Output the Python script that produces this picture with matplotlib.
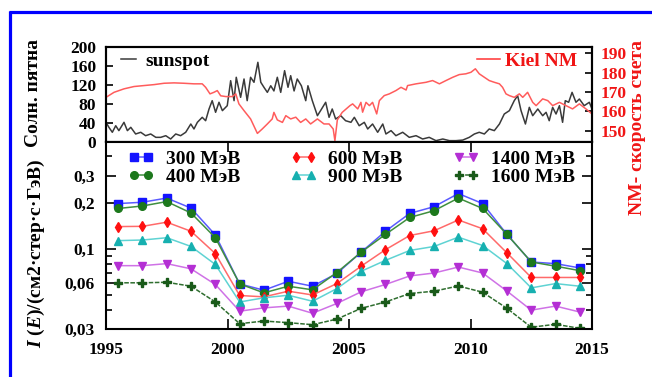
import matplotlib
matplotlib.use("Agg")
import matplotlib.pyplot as plt
from matplotlib.lines import Line2D
from matplotlib.ticker import FixedLocator, FixedFormatter, NullFormatter

plt.rcParams['font.family'] = ['Liberation Serif', 'DejaVu Serif']
plt.rcParams['font.weight'] = 'bold'
plt.rcParams['mathtext.fontset'] = 'custom'
plt.rcParams['mathtext.it'] = 'Liberation Serif:italic:bold'
plt.rcParams['mathtext.rm'] = 'Liberation Serif:bold'

# ---- sunspot number (monthly) ----
sun_year = [1995.0, 1995.12, 1995.26, 1995.4, 1995.53, 1995.74, 1995.88, 1996.02, 1996.22, 1996.43,
            1996.63, 1996.84, 1997.05, 1997.25, 1997.46, 1997.66, 1997.87, 1998.07, 1998.28, 1998.49,
            1998.62, 1998.76, 1998.96, 1999.1, 1999.24, 1999.37, 1999.51, 1999.65, 1999.79, 1999.99,
            2000.13, 2000.27, 2000.36, 2000.54, 2000.68, 2000.81, 2000.95, 2001.09, 2001.25, 2001.37,
            2001.5, 2001.64, 2001.78, 2001.91, 2002.05, 2002.19, 2002.35, 2002.49, 2002.6, 2002.74,
            2002.87, 2003.04, 2003.22, 2003.31, 2003.49, 2003.7, 2003.83, 2004.04, 2004.18, 2004.31,
            2004.45, 2004.66, 2004.86, 2005.08, 2005.22, 2005.42, 2005.63, 2005.77, 2005.97, 2006.18,
            2006.39, 2006.52, 2006.73, 2006.93, 2007.21, 2007.48, 2007.76, 2008.03, 2008.3, 2008.58,
            2008.86, 2009.13, 2009.4, 2009.68, 2009.95, 2010.16, 2010.36, 2010.57, 2010.77, 2010.98,
            2011.19, 2011.39, 2011.6, 2011.8, 2011.94, 2012.08, 2012.26, 2012.42, 2012.56, 2012.77,
            2012.97, 2013.11, 2013.24, 2013.38, 2013.52, 2013.66, 2013.79, 2013.9, 2014.04, 2014.18,
            2014.34, 2014.48, 2014.68, 2014.89, 2015.0]
sunspots = [40.6, 30, 19.5, 33.4, 23, 40.6, 23, 30, 15.9, 19.5,
            12.3, 15.9, 8.8, 8.8, 12.3, 5.3, 15.9, 12.3, 19.5, 37,
            26.5, 40.6, 51.2, 44, 68.8, 86.4, 61.8, 83, 65.3, 75.8,
            128.7, 86.4, 135.9, 93.5, 132.3, 86.4, 135.9, 125.3, 167.6, 125.3,
            114.7, 104, 118, 107, 135.9, 104, 149.9, 114.7, 139.3, 107,
            132.3, 118, 86.4, 118, 86.4, 54.6, 65.3, 83, 51.2, 68.8,
            47.6, 54.6, 44, 40.6, 51.2, 33.4, 40.6, 26.5, 37, 19.5,
            37, 15.9, 23, 12.3, 19.5, 8.8, 12.3, 5.3, 8.8, 1.8,
            5.3, 1.8, 1.8, 3, 8.8, 15.9, 19.5, 15.9, 26.5, 23,
            37, 58.2, 65.3, 86.4, 97, 65.3, 37, 72.3, 54.6, 68.8,
            54.6, 61.8, 44, 72.3, 58.2, 75.8, 40.6, 86.4, 83, 104,
            83, 89.9, 75.8, 83, 68.8]

# ---- Kiel neutron monitor count rate ----
kiel_year = [1995.0, 1995.33, 1995.74, 1996.15, 1996.56, 1996.98, 1997.39, 1997.8, 1998.2, 1998.62,
             1998.96, 1999.1, 1999.28, 1999.44, 1999.58, 1999.72, 1999.93, 2000.2, 2000.34, 2000.47,
             2000.68, 2000.95, 2001.23, 2001.43, 2001.64, 2001.84, 2001.91, 2002.05, 2002.26, 2002.4,
             2002.6, 2002.81, 2003.01, 2003.22, 2003.42, 2003.7, 2003.97, 2004.18, 2004.35, 2004.42,
             2004.52, 2004.72, 2005.04, 2005.15, 2005.36, 2005.49, 2005.56, 2005.7, 2005.84, 2005.97,
             2006.14, 2006.25, 2006.45, 2006.66, 2006.93, 2007.14, 2007.35, 2007.41, 2007.76, 2008.17,
             2008.44, 2008.72, 2008.99, 2009.27, 2009.54, 2009.81, 2010.02, 2010.2, 2010.36, 2010.57,
             2010.77, 2010.98, 2011.19, 2011.32, 2011.46, 2011.6, 2011.8, 2012.01, 2012.15, 2012.35,
             2012.56, 2012.7, 2012.97, 2013.18, 2013.38, 2013.66, 2013.93, 2014.2, 2014.48, 2014.75,
             2015.0]
kiel_rate = [167.2, 169.8, 171.6, 172.8, 173.3, 173.8, 174.5, 174.7, 174.5, 174.2,
             174.2, 172.4, 169.0, 169.8, 170.7, 168.0, 167.6, 167.6, 169.0, 163.8,
             160.3, 156.0, 148.5, 150.8, 153.4, 156.0, 159.4, 155.5, 154.2, 157.7,
             156.0, 156.9, 154.2, 156.0, 153.4, 156.0, 153.4, 153.4, 150.8, 144.7,
             155.5, 159.4, 162.9, 163.8, 161.2, 164.6, 159.5, 164.6, 162.9, 164.6,
             158.6, 165.5, 168.1, 169.0, 170.7, 172.4, 171.0, 173.3, 174.2, 175.0,
             175.9, 174.2, 175.9, 177.6, 179.0, 179.4, 180.2, 182.0, 179.4, 177.6,
             175.9, 175.0, 174.2, 172.4, 169.0, 168.1, 167.2, 169.0, 167.2, 169.8,
             164.6, 162.9, 166.4, 165.5, 162.9, 164.6, 162.9, 161.2, 163.8, 161.2,
             158.6]

# ---- proton intensity, yearly means ----
years = [1995.5, 1996.5, 1997.5, 1998.5, 1999.5, 2000.5, 2001.5, 2002.5, 2003.5, 2004.5,
         2005.5, 2006.5, 2007.5, 2008.5, 2009.5, 2010.5, 2011.5, 2012.5, 2013.5, 2014.5]
i_300 = [0.197, 0.201, 0.214, 0.184, 0.123, 0.059, 0.0537, 0.0614, 0.057, 0.069,
         0.095, 0.130, 0.170, 0.188, 0.229, 0.197, 0.124, 0.082, 0.080, 0.075]
i_400 = [0.183, 0.190, 0.203, 0.171, 0.118, 0.059, 0.0516, 0.057, 0.054, 0.070,
         0.095, 0.124, 0.160, 0.177, 0.214, 0.183, 0.124, 0.082, 0.077, 0.072]
i_600 = [0.1395, 0.140, 0.149, 0.130, 0.093, 0.0496, 0.0486, 0.0529, 0.050, 0.0593,
         0.077, 0.0986, 0.122, 0.131, 0.154, 0.135, 0.094, 0.065, 0.065, 0.065]
i_900 = [0.113, 0.114, 0.118, 0.1035, 0.079, 0.045, 0.0479, 0.0498, 0.0455, 0.055,
         0.0713, 0.084, 0.0975, 0.1035, 0.119, 0.105, 0.080, 0.0556, 0.0593, 0.057]
i_1400 = [0.0776, 0.0776, 0.080, 0.074, 0.0585, 0.0392, 0.0412, 0.0423, 0.038, 0.044,
          0.0524, 0.0585, 0.0665, 0.0695, 0.076, 0.0695, 0.053, 0.0398, 0.0423, 0.0387]
i_1600 = [0.060, 0.060, 0.0605, 0.057, 0.045, 0.0325, 0.0338, 0.033, 0.032, 0.0348,
          0.0409, 0.045, 0.0511, 0.0529, 0.0572, 0.0521, 0.0409, 0.0308, 0.0322, 0.0303]

energy_labels = ['300 МэВ', '400 МэВ', '600 МэВ', '900 МэВ', '1400 МэВ', '1600 МэВ']
year_ticks = [1995, 2000, 2005, 2010, 2015]
intensity_ticks = [0.03, 0.06, 0.1, 0.2, 0.3]
intensity_tick_labels = ['0,03', '0,06', '0,1', '0,2', '0,3']
intensity_minor = [0.04, 0.05, 0.07, 0.08, 0.09, 0.4]

W, H = 652, 377
fig = plt.figure(figsize=(W / 100, H / 100), dpi=100)


def fx(px):
    return px / W


def fy(py):
    return 1 - py / H


AX_L, AX_R = 106, 592
TOP_T, MID, BOT_B = 47, 141.5, 329

ax_top = fig.add_axes([fx(AX_L), fy(MID), fx(AX_R) - fx(AX_L), fy(TOP_T) - fy(MID)])
ax_nm = ax_top.twinx()
ax_bot = fig.add_axes([fx(AX_L), fy(BOT_B), fx(AX_R) - fx(AX_L), fy(MID) - fy(BOT_B)])

RED = '#f01515'
TICK_FS = 12.5
LEG_FS = 14
LABEL_FS = 14

# ---- upper panel ----
sun_line, = ax_top.plot(sun_year, sunspots, color='#3a3a3a', lw=1.1, label='sunspot')
nm_line, = ax_nm.plot(kiel_year, kiel_rate, color='#ff5c5c', lw=1.1, label='Kiel NM')
ax_top.set_xlim(1995, 2015)
ax_top.set_ylim(0, 200)
ax_top.set_yticks([0, 40, 80, 120, 160, 200])
ax_top.set_xticks([])
ax_top.tick_params(axis='y', direction='in', length=5, width=1.2, labelsize=TICK_FS, pad=7)
ax_nm.set_ylim(144.3, 193.3)
ax_nm.set_yticks([150, 160, 170, 180, 190])
ax_nm.tick_params(axis='y', direction='in', length=5, width=1.2, labelsize=TICK_FS,
                  labelcolor=RED, pad=6)
for a in (ax_top, ax_nm):
    for s in a.spines.values():
        s.set_linewidth(1.5)

leg1 = ax_top.legend(handles=[sun_line], loc='center left',
                     bbox_to_anchor=(fx(121), fy(61)), bbox_transform=fig.transFigure,
                     frameon=False, borderpad=0, borderaxespad=0, handlelength=0.78,
                     handletextpad=0.46, prop={'size': LEG_FS, 'weight': 'bold'})
leg2 = ax_nm.legend(handles=[nm_line], loc='center left',
                    bbox_to_anchor=(fx(477), fy(61)), bbox_transform=fig.transFigure,
                    frameon=False, borderpad=0, borderaxespad=0, handlelength=1.18,
                    handletextpad=0.26, prop={'size': LEG_FS, 'weight': 'bold'})
for t in leg2.get_texts():
    t.set_color(RED)
leg2.get_lines()[0].set_color('#ff3333')

# ---- lower panel ----
series = [
    (i_300, 's', '#1414ff', '#5a5aff', '-'),
    (i_400, 'o', '#1c781c', '#3f8f3f', '-'),
    (i_600, 'd', '#ff1010', '#ff6a6a', '-'),
    (i_900, '^', '#17b0b0', '#5fd3d3', '-'),
    (i_1400, 'v', '#b42fd4', '#cf72e6', '-'),
    (i_1600, 'P', '#195a19', '#2f6e2f', (0, (3, 1))),
]
for (vals, mk, mcol, lcol, ls), lab in zip(series, energy_labels):
    ax_bot.plot(years, vals, color=lcol, ls=ls, lw=1.1, marker=mk, ms=5.5,
                mfc=mcol, mec=mcol, label=lab)

ax_bot.set_yscale('log')
ax_bot.set_xlim(1995, 2015)
ax_bot.set_ylim(0.03, 0.5)
ax_bot.set_xticks(year_ticks)
ax_bot.yaxis.set_major_locator(FixedLocator(intensity_ticks))
ax_bot.yaxis.set_major_formatter(FixedFormatter(intensity_tick_labels))
ax_bot.yaxis.set_minor_locator(FixedLocator(intensity_minor))
ax_bot.yaxis.set_minor_formatter(NullFormatter())
ax_bot.xaxis.set_minor_locator(FixedLocator([]))
ax_bot.tick_params(axis='both', which='major', direction='in', length=7, width=1.2,
                   labelsize=TICK_FS, top=True, right=True)
ax_bot.tick_params(axis='x', pad=9)
ax_bot.tick_params(axis='y', pad=8)
ax_bot.tick_params(axis='y', which='minor', direction='in', length=4, width=1.2, right=True)
for s in ax_bot.spines.values():
    s.set_linewidth(1.5)

ax_bot.legend(loc='center left', ncol=3, bbox_to_anchor=(fx(128), fy(168)),
              bbox_transform=fig.transFigure, frameon=False, borderpad=0, borderaxespad=0,
              handlelength=1.34, handletextpad=0.6, columnspacing=2.6, labelspacing=0.05,
              numpoints=2, prop={'size': LEG_FS, 'weight': 'bold'})

# ---- axis titles ----
fig.text(fx(34), fy(93), 'Солн. пятна', rotation=90, ha='center', va='center',
         fontsize=LABEL_FS, fontweight='bold')
fig.text(fx(36), fy(253), r'$I$ ($E$)/(см2·стер·с·ГэВ)', rotation=90, ha='center',
         va='center', fontsize=LABEL_FS, fontweight='bold')
fig.text(fx(637), fy(128), 'NM- скорость счета', rotation=90, ha='center', va='center',
         fontsize=LABEL_FS, fontweight='bold', color=RED)

# ---- blue frame ----
fig.add_artist(Line2D([fx(10), fx(10)], [fy(10.5), 0], transform=fig.transFigure,
                      color='#0000ff', lw=2.3, solid_capstyle='butt'))
fig.add_artist(Line2D([fx(8.5), 1], [fy(12), fy(12)], transform=fig.transFigure,
                      color='#0000ff', lw=2.3, solid_capstyle='butt'))

fig.savefig('out.png', dpi=100)
